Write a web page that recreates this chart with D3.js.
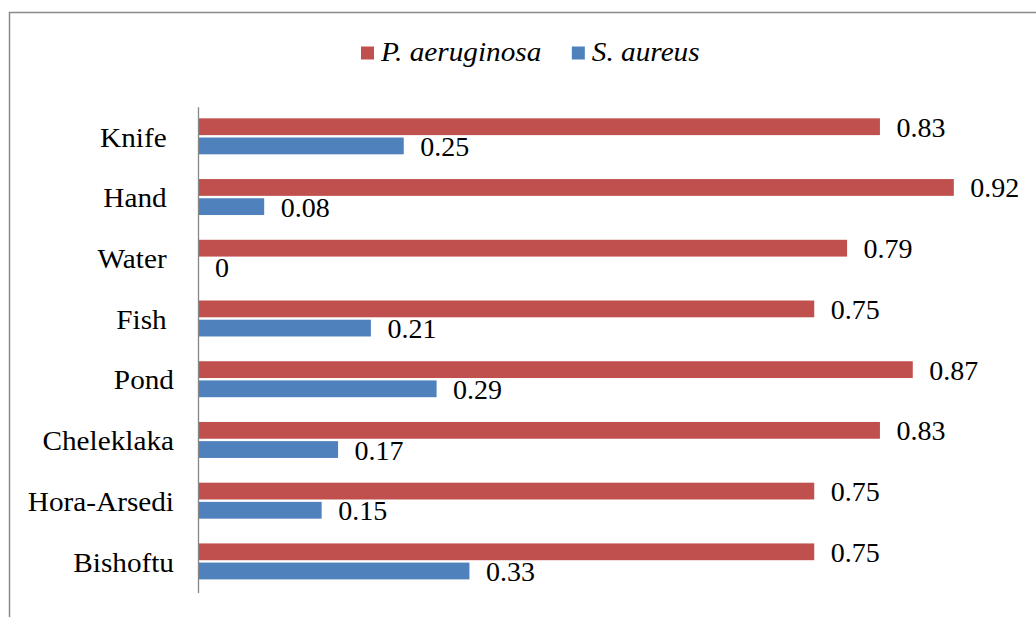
<!DOCTYPE html>
<html><head><meta charset="utf-8">
<script src="https://cdn.jsdelivr.net/npm/d3@7"></script>
<style>html,body{margin:0;padding:0;background:#fff;}svg{display:block;}</style>
</head><body>
<script>
const categories = ["Knife", "Hand", "Water", "Fish", "Pond", "Cheleklaka", "Hora-Arsedi", "Bishoftu"];
const labelSuffix = [" ", " ", " ", " ", "", "", "", ""];
const series = ["P. aeruginosa", "S. aureus"];
const pAeruginosa = [0.83, 0.92, 0.79, 0.75, 0.87, 0.83, 0.75, 0.75];
const sAureus = [0.25, 0.08, 0, 0.21, 0.29, 0.17, 0.15, 0.33];
const colors = ["#C0504D", "#4F81BD"];

const W = 1036, H = 617;
const svg = d3.select("body").append("svg").attr("width", W).attr("height", H);
const font = "'Liberation Serif','Times New Roman',serif";
const stretch = 1.045;

// frame
svg.append("rect").attr("x", 9.5).attr("y", 12.5).attr("width", 1040).attr("height", 620)
  .attr("fill", "none").attr("stroke", "#8a8a8a").attr("stroke-width", 1.5);

const plot = {left: 198.5, top: 107.2, bottom: 593};
const x = d3.scaleLinear().domain([0, 1]).range([plot.left, plot.left + 821]);
const y = d3.scaleBand().domain(categories).range([plot.top, plot.bottom]).padding(0);
const yi = d3.scaleBand().domain(series).range([0, y.bandwidth()])
  .paddingInner(0.125).paddingOuter(0.645).align(0.45);

const data = series.map((s, si) => ({s, vals: si === 0 ? pAeruginosa : sAureus}));

data.forEach((d, si) => {
  const g = svg.append("g");
  g.selectAll("rect").data(categories).join("rect")
    .attr("x", x(0))
    .attr("y", c => y(c) + yi(d.s))
    .attr("width", (c, i) => x(d.vals[i]) - x(0))
    .attr("height", yi.bandwidth())
    .attr("fill", colors[si]);
  g.selectAll("text").data(categories).join("text")
    .attr("x", (c, i) => x(d.vals[i]) + 16.5)
    .attr("y", c => y(c) + yi(d.s) + yi.bandwidth() / 2 + 10)
    .attr("font-family", font).attr("font-size", 28).attr("fill", "#000")
    .text((c, i) => String(d.vals[i]));
});

// axis line
svg.append("line").attr("x1", plot.left).attr("x2", plot.left)
  .attr("y1", plot.top).attr("y2", plot.bottom)
  .attr("stroke", "#868686").attr("stroke-width", 1.3);

// category labels
svg.append("g").selectAll("text").data(categories).join("text")
  .attr("transform", c => `translate(174,${y(c) + y.bandwidth() / 2 + 9}) scale(${stretch},1)`)
  .attr("text-anchor", "end").style("white-space", "pre")
  .attr("font-family", font).attr("font-size", 28).attr("fill", "#000")
  .text((c, i) => c + labelSuffix[i]);

// legend
let lx = 361;
series.forEach((s, si) => {
  svg.append("rect").attr("x", lx).attr("y", 46.5).attr("width", 13).attr("height", 13)
    .attr("fill", colors[si]);
  const t = svg.append("text").attr("transform", `translate(${lx + 20},60.7) scale(${stretch},1)`)
    .attr("font-family", font).attr("font-size", 28).attr("font-style", "italic")
    .attr("fill", "#000").text(s);
  lx = lx + 20 + t.node().getComputedTextLength() * stretch + 30.5;
});
</script>
</body></html>
